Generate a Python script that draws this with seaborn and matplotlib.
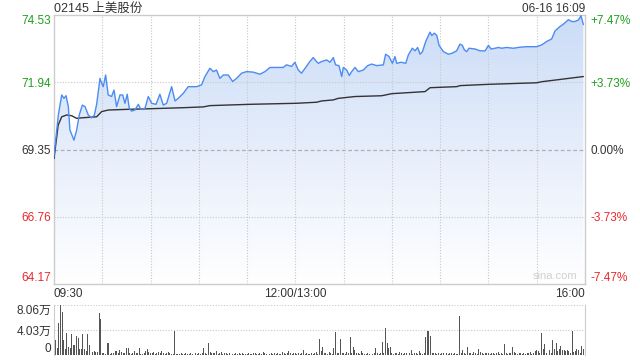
import numpy as np
import pandas as pd
import matplotlib
matplotlib.use("Agg")
import matplotlib.pyplot as plt
import seaborn as sns
from matplotlib.colors import LinearSegmentedColormap
from matplotlib.patches import PathPatch

# =========================
# DATA
# =========================
title = "02145 上美股份"
stamp = "06-16 16:09"
prev_close = 69.35
price_ticks = [64.17, 66.76, 69.35, 71.94, 74.53]
pct_labels = ["-7.47%", "-3.73%", "0.00%", "+3.73%", "+7.47%"]
time_ticks = [0, 150, 330]
time_labels = ["09:30", "12:00/13:00", "16:00"]
vol_ticks = [0, 4.03, 8.06]
vol_labels = ["0", "4.03万", "8.06万"]

# minutes since 09:30 (lunch break removed) and price
price_min = [0, 2.7, 4.8, 6.2, 7.5, 8.9, 9.9, 12.4, 14.1, 15.7, 17.6, 19.3, 21.3, 23.4,
             25.1, 26.5, 28.6, 29.6, 30.6, 32.1, 33.7, 35.8, 37.3, 38.9, 41.0, 42.7,
             44.1, 45.5, 46.8, 48.2, 50.3, 52.4, 53.8, 56.5, 58.6, 60.7, 63.4, 65.8,
             67.9, 70.0, 73.1, 75.2, 77.2, 80.3, 83.4, 88.6, 91.7, 93.8, 96.9, 99.0,
             101.0, 103.1, 105.2, 108.3, 111.0, 113.5, 116.6, 119.7, 123.8, 128.0,
             131.1, 134.2, 142.4, 144.5, 147.6, 149.7, 151.8, 153.8, 156.9, 159.0,
             161.1, 163.1, 164.3, 166.4, 169.5, 171.5, 173.6, 175.0, 177.1, 178.8,
             179.8, 181.9, 183.5, 185.0, 187.1, 189.1, 192.2, 194.9, 197.4, 200.5,
             204.7, 206.1, 208.2, 210.3, 211.9, 213.0, 215.7, 218.6, 220.2, 222.7,
             224.4, 226.0, 227.5, 229.0, 231.0, 233.7, 234.8, 236.4, 237.9, 239.3,
             242.0, 245.1, 247.5, 250.2, 252.3, 253.8, 255.0, 256.5, 257.9, 261.7,
             264.8, 267.9, 270.0, 271.6, 274.1, 276.2, 278.2, 281.3, 285.5, 289.6,
             293.8, 300.0, 303.1, 306.2, 309.3, 311.4, 314.5, 316.6, 319.7, 321.7,
             323.8, 325.9, 327.5, 329.0]
price = [69.10, 70.68, 71.45, 71.32, 71.42, 71.00, 70.10, 69.71, 70.10, 70.68, 71.06,
         71.00, 70.68, 70.57, 70.68, 71.09, 72.09, 71.90, 71.77, 72.22, 71.45, 71.39,
         71.64, 71.00, 71.45, 71.45, 71.13, 71.48, 70.93, 70.83, 70.87, 71.09, 70.91,
         70.93, 71.39, 71.13, 71.09, 71.48, 71.06, 71.13, 71.77, 71.22, 71.32, 71.51,
         71.77, 71.77, 71.84, 72.16, 72.48, 72.35, 72.41, 72.09, 72.22, 72.22, 71.97,
         72.09, 72.29, 72.35, 72.33, 72.25, 72.35, 72.51, 72.51, 72.61, 72.55, 72.71,
         72.41, 72.29, 72.55, 72.74, 72.89, 72.74, 72.67, 72.74, 72.80, 72.71, 72.89,
         72.61, 72.58, 72.16, 72.51, 72.41, 72.20, 72.35, 72.51, 72.35, 72.41, 72.58,
         72.64, 72.58, 72.61, 73.02, 72.93, 72.67, 72.93, 72.67, 72.71, 72.67, 72.99,
         73.25, 73.15, 73.28, 73.02, 73.12, 73.51, 73.87, 73.74, 73.83, 73.74, 73.36,
         73.12, 73.02, 73.06, 73.15, 73.41, 73.36, 73.19, 73.12, 73.25, 73.22, 73.15,
         73.15, 73.36, 73.22, 73.25, 73.28, 73.25, 73.28, 73.25, 73.29, 73.31, 73.31,
         73.38, 73.51, 73.61, 73.92, 74.09, 74.18, 74.35, 74.28, 74.28, 74.34, 74.50,
         74.16]

avg_min = [0, 2.6, 4.8, 7.9, 11.0, 14.1, 17.2, 26.5, 29.6, 33.7, 47.2, 59.6, 80.3,
           92.7, 96.9, 121.7, 150.7, 163.1, 166.4, 173.6, 176.7, 187.1, 203.6, 209.9,
           230.6, 233.7, 250.2, 252.3, 270.0, 300.0, 303.1, 329.0]
avg_price = [69.00, 70.29, 70.61, 70.68, 70.65, 70.55, 70.57, 70.61, 70.81, 70.87,
             70.90, 70.92, 70.96, 70.99, 71.04, 71.09, 71.13, 71.17, 71.22, 71.26,
             71.32, 71.39, 71.42, 71.50, 71.58, 71.73, 71.77, 71.81, 71.86, 71.92,
             71.96, 72.16]

# volume per minute, in 万 shares (minute 0 .. 330)
volume = [
    2.7, 2.4, 1.1, 5.1, 8.06, 7.0, 2.4, 1.0, 3.5, 1.3, 1.2, 3.4, 1.6, 1.6, 3.0,
    2.7, 1.0, 1.0, 3.4, 1.0, 0.6, 3.4, 1.6, 0.5, 0.5, 0.7, 0.5, 0.5, 6.8, 5.8,
    0.3, 0.3, 0.2, 1.9, 1.9, 0.2, 0.3, 0.4, 0.6, 0.7, 0.4, 0.8, 0.5, 0.4, 0.3,
    1.1, 1.1, 0.3, 0.2, 0.4, 0.6, 0.4, 0.3, 1.1, 0.2, 0.2, 0.3, 0.7, 0.9, 0.5,
    0.4, 0.3, 0.5, 0.2, 0.3, 0.5, 0.4, 0.6, 0.3, 0.2, 0.4, 0.5, 0.3, 0.2, 0.1,
    3.8, 0.2, 0.1, 0.2, 0.3, 0.1, 0.2, 0.3, 0.2, 0.1, 0.3, 0.2, 0.4, 0.3, 0.2,
    0.3, 0.2, 0.3, 1.1, 0.3, 0.2, 2.0, 0.5, 0.3, 0.4, 0.3, 0.6, 0.2, 0.3, 0.5,
    0.2, 0.4, 0.3, 0.2, 0.3, 0.2, 0.1, 0.2, 0.3, 0.2, 0.4, 0.2, 0.3, 0.2, 0.1,
    0.2, 0.3, 0.1, 0.2, 0.4, 0.3, 0.2, 0.1, 0.3, 0.2, 0.5, 0.3, 0.2, 0.1, 0.2,
    0.3, 0.2, 0.4, 0.2, 0.3, 0.1, 0.2, 0.5, 0.3, 0.2, 0.4, 0.6, 0.3, 0.2, 0.4,
    0.3, 0.2, 0.4, 0.2, 0.3, 0.8, 0.2, 0.3, 0.1, 0.2, 0.4, 0.2, 0.3, 0.5, 0.2,
    2.5, 0.6, 1.3, 0.3, 0.4, 0.2, 0.5, 0.3, 0.2, 1.1, 3.7, 0.4, 0.3, 2.5, 0.4,
    0.3, 0.2, 0.5, 0.3, 2.9, 0.4, 1.3, 0.8, 0.3, 0.4, 0.2, 0.6, 0.3, 0.2, 0.1,
    0.3, 0.2, 0.4, 0.2, 0.3, 1.2, 0.3, 0.2, 0.4, 2.1, 0.3, 4.3, 2.0, 1.2, 1.3,
    0.3, 0.2, 0.4, 0.3, 0.2, 0.5, 0.3, 0.2, 0.4, 0.3, 0.2, 0.3, 0.8, 0.2, 0.3,
    0.4, 0.2, 0.6, 0.3, 0.2, 0.4, 2.9, 3.9, 3.8, 3.1, 0.3, 0.4, 0.3, 0.2, 0.3,
    0.2, 0.3, 0.4, 0.2, 0.3, 0.2, 0.4, 0.3, 0.2, 0.3, 0.2, 0.1, 6.3, 0.3, 0.8,
    0.4, 0.2, 1.3, 0.3, 0.4, 0.2, 0.5, 0.3, 0.2, 0.9, 0.5, 0.3, 0.2, 0.4, 0.3,
    0.3, 0.2, 0.4, 0.3, 0.2, 0.3, 0.5, 0.2, 0.3, 0.2, 1.8, 0.3, 0.2, 0.4, 0.3,
    1.3, 0.5, 0.3, 0.2, 0.3, 0.4, 0.2, 0.3, 0.2, 0.4, 0.3, 0.5, 0.2, 0.3, 0.6,
    0.8, 0.6, 0.3, 3.5, 0.9, 1.8, 0.3, 0.5, 0.8, 0.4, 2.4, 1.0, 2.0, 0.6, 1.0,
    1.4, 0.8, 0.8, 0.6, 0.8, 0.6, 0.4, 3.8, 0.5, 0.7, 0.9, 0.8, 0.3, 1.4, 0.9,
    1.2,
]

# =========================
# STYLE
# =========================
sns.set_style("white")
plt.rcParams["font.family"] = ["Liberation Sans", "Noto Sans CJK SC", "DejaVu Sans"]

GREEN = "#1f9f1f"
RED = "#e8282b"
DARK = "#333333"
FRAME = "#cccccc"
GRID = "#c8c8c8"
FS = 8.5

price_df = pd.DataFrame({"minute": price_min, "price": price})
avg_df = pd.DataFrame({"minute": avg_min, "avg": avg_price})
vol_df = pd.DataFrame({"minute": np.arange(len(volume)), "volume": volume})

fig = plt.figure(figsize=(6.4, 3.6), dpi=100)
ax = fig.add_axes([54 / 640, 1 - 284 / 360, 531 / 640, 269 / 360])
axv = fig.add_axes([54 / 640, 1 - 355 / 360, 531 / 640, 50 / 360])

# =========================
# PRICE PANEL
# =========================
ymin, ymax = price_ticks[0], price_ticks[-1]
cmap = LinearSegmentedColormap.from_list("fill", ["#ffffff", "#e6eefb", "#cbdcf7"])
grad = np.linspace(1, 0, 256).reshape(-1, 1)
im = ax.imshow(grad, extent=[0, 330, ymin, ymax], aspect="auto", cmap=cmap,
               vmin=0, vmax=1, zorder=1)
poly = ax.fill_between(price_df["minute"], price_df["price"], ymin, color="none")
clip = PathPatch(poly.get_paths()[0], transform=ax.transData,
                 facecolor="none", edgecolor="none")
ax.add_patch(clip)
im.set_clip_path(clip)

for m in range(30, 330, 30):
    ax.axvline(m, color=GRID, lw=0.8, ls=(0, (1, 1.5)), zorder=2)
for v in (66.76, 71.94):
    ax.axhline(v, color=GRID, lw=0.8, ls=(0, (1, 1.5)), zorder=2)
ax.axhline(prev_close, color="#b0b0b0", lw=0.9, ls=(0, (3, 2)), zorder=2)

sns.lineplot(data=price_df, x="minute", y="price", ax=ax, color="#4c8cf2",
             lw=1.0, estimator=None, zorder=4)
sns.lineplot(data=avg_df, x="minute", y="avg", ax=ax, color=DARK,
             lw=1.0, estimator=None, zorder=3)

ax.set_xlim(0, 330)
ax.set_ylim(ymin, ymax)
ax.set_xlabel("")
ax.set_ylabel("")
for s in ax.spines.values():
    s.set_color(FRAME)
    s.set_linewidth(1.0)

left_colors = [RED, RED, DARK, GREEN, GREEN]
ax.set_yticks(price_ticks)
ax.set_yticklabels([f"{v:.2f}" for v in price_ticks], fontsize=FS)
ax.tick_params(axis="y", length=0, pad=2)
for lab, c in zip(ax.get_yticklabels(), left_colors):
    lab.set_color(c)
ax.get_yticklabels()[0].set_va("bottom")
ax.get_yticklabels()[-1].set_va("top")

ax.set_xticks(time_ticks)
ax.set_xticklabels(time_labels, fontsize=FS, color=DARK)
ax.tick_params(axis="x", length=0, pad=3)
xl = ax.get_xticklabels()
xl[0].set_ha("left")
xl[2].set_ha("right")

axr = ax.twinx()
axr.set_ylim(ymin, ymax)
axr.set_yticks(price_ticks)
axr.set_yticklabels(pct_labels, fontsize=FS)
axr.tick_params(axis="y", length=0, pad=4)
for lab, c in zip(axr.get_yticklabels(), left_colors):
    lab.set_color(c)
axr.get_yticklabels()[0].set_va("bottom")
axr.get_yticklabels()[-1].set_va("top")
for s in axr.spines.values():
    s.set_visible(False)

ax.text(0, 1 + 3 / 269, title, transform=ax.transAxes, ha="left", va="baseline",
        fontsize=9, color=DARK)
ax.text(1, 1 + 3 / 269, stamp, transform=ax.transAxes, ha="right", va="baseline",
        fontsize=8.5, color=DARK)
ax.text(0.985, 0.012, "sina.com", transform=ax.transAxes, ha="right",
        va="bottom", fontsize=8, color="#d0d0d0")

# =========================
# VOLUME PANEL
# =========================
for v in (4.03, 8.06):
    axv.axhline(v, color=GRID, lw=0.8, ls=(0, (1, 1.5)), zorder=1)
sns.barplot(data=vol_df, x="minute", y="volume", ax=axv, native_scale=True,
            color="#555555", width=0.6, saturation=1, linewidth=0, zorder=2)
axv.set_xlim(0, 330)
axv.set_ylim(0, 8.06)
axv.set_xlabel("")
axv.set_ylabel("")
axv.set_xticks([])
axv.set_yticks(vol_ticks)
axv.set_yticklabels(vol_labels, fontsize=FS, color=DARK)
axv.tick_params(axis="y", length=0, pad=2)
axv.get_yticklabels()[0].set_va("bottom")
axv.get_yticklabels()[-1].set_va("top")
for side in ("top", "bottom"):
    axv.spines[side].set_visible(False)
for side in ("left", "right"):
    axv.spines[side].set_color(FRAME)

fig.savefig("out.png", dpi=100)
